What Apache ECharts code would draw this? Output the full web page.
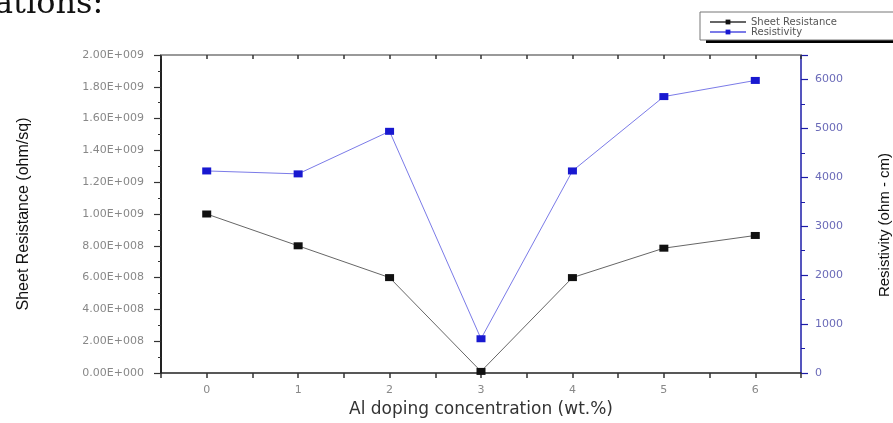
<!DOCTYPE html>
<html>
<head>
<meta charset="utf-8">
<script src="https://cdn.jsdelivr.net/npm/echarts@6/dist/echarts.min.js"></script>
<style>
  html, body { margin: 0; padding: 0; background: #fff; }
  #chart { width: 893px; height: 423px; }
</style>
</head>
<body>
<div id="chart"></div>
<script>
// Al doping concentration (wt.%)
const doping = [0, 1, 2, 3, 4, 5, 6];
// sheet resistance, ohm/sq
const sheetResistance = [1.0e9, 8.0e8, 6.0e8, 1.0e7, 6.0e8, 7.85e8, 8.65e8];
// resistivity, ohm - cm
const resistivity = [4130, 4070, 4940, 700, 4130, 5650, 5980];

function sci(v) {
  const parts = v.toExponential(2).split('e');
  const exp = parseInt(parts[1], 10);
  return parts[0] + 'E' + (exp < 0 ? '-' : '+') + String(Math.abs(exp)).padStart(3, '0');
}

const myChart = echarts.init(document.getElementById('chart'));

const labelFont = '"DejaVu Sans", sans-serif';
const nameFont = '"Liberation Sans Narrow", "Liberation Sans", sans-serif';

let option = {
  animation: false,
  backgroundColor: '#fff',
  grid: { left: 161, right: 92, top: 55, bottom: 50, outerBoundsMode: 'none', containLabel: false },
  legend: {
    orient: 'vertical',
    left: 704,
    top: 12,
    z: 10,
    itemWidth: 36,
    itemHeight: 6,
    itemGap: 0,
    textStyle: { fontSize: 10, color: '#555', fontFamily: labelFont },
    data: ['Sheet Resistance', 'Resistivity']
  },
  graphic: [
    {
      type: 'text', left: -6, top: -11, z: 1,
      style: { text: 'ations:', font: '32px "DejaVu Serif", serif', fill: '#111' }
    },
    {
      type: 'rect', z: 1,
      shape: { x: 706, y: 15, width: 200, height: 28 },
      style: { fill: '#000' }
    },
    {
      type: 'rect', z: 2,
      shape: { x: 700, y: 12, width: 200, height: 28 },
      style: { fill: '#fff', stroke: '#777', lineWidth: 1 }
    }
  ],
  xAxis: [
    {
      type: 'value',
      min: -0.5, max: 6.5, interval: 0.5,
      name: 'Al doping concentration (wt.%)',
      nameLocation: 'middle',
      nameGap: 28,
      nameTextStyle: { fontSize: 17, color: '#333', fontFamily: labelFont },
      axisLine: { onZero: false, lineStyle: { color: '#222', width: 1.5 } },
      axisTick: { show: true, length: 5, lineStyle: { color: '#333', width: 1.5 } },
      axisLabel: {
        fontSize: 11, color: '#888', fontFamily: labelFont, margin: 12,
        formatter: v => (Number.isInteger(v) ? String(v) : '')
      },
      splitLine: { show: false }
    },
    {
      type: 'value',
      position: 'top',
      min: -0.5, max: 6.5, interval: 0.5,
      axisLine: { onZero: false, lineStyle: { color: '#999', width: 2 } },
      axisTick: { show: true, inside: true, length: 4, lineStyle: { color: '#333', width: 1.5 } },
      axisLabel: { show: false },
      splitLine: { show: false }
    }
  ],
  yAxis: [
    {
      type: 'value',
      min: 0, max: 2e9, interval: 2e8,
      name: 'Sheet Resistance (ohm/sq)',
      nameLocation: 'middle',
      nameRotate: 90,
      nameGap: 129,
      nameTextStyle: { fontSize: 16, color: '#111', fontFamily: nameFont },
      axisLine: { show: true, onZero: false, lineStyle: { color: '#222', width: 2 } },
      axisTick: { show: true, length: 7, lineStyle: { color: '#333', width: 1.2 } },
      minorTick: { show: true, splitNumber: 2, length: 3, lineStyle: { color: '#333' } },
      axisLabel: { fontSize: 11, color: '#888', fontFamily: labelFont, margin: 17, formatter: sci },
      splitLine: { show: false }
    },
    {
      type: 'value',
      position: 'right',
      min: 0, max: 6500, interval: 1000,
      name: 'Resistivity (ohm - cm)',
      nameLocation: 'middle',
      nameRotate: 90,
      nameGap: 76,
      nameTextStyle: { fontSize: 15, color: '#111', fontFamily: nameFont, padding: [0, 22, 0, 0] },
      axisLine: { show: true, onZero: false, lineStyle: { color: '#1c1ca8', width: 1.5 } },
      axisTick: { show: true, length: 7, lineStyle: { color: '#1c1ca8', width: 1.2 } },
      minorTick: { show: true, splitNumber: 2, length: 4, lineStyle: { color: '#1c1ca8' } },
      axisLabel: {
        fontSize: 11, color: '#6a6ab8', fontFamily: labelFont, margin: 14,
        formatter: v => (v > 6000 ? '' : String(v))
      },
      splitLine: { show: false }
    }
  ],
  series: [
    {
      name: 'Sheet Resistance',
      type: 'line',
      yAxisIndex: 0,
      data: doping.map((x, i) => [x, sheetResistance[i]]),
      symbol: 'rect',
      symbolSize: [9, 7],
      lineStyle: { color: '#666', width: 1 },
      itemStyle: { color: '#111' }
    },
    {
      name: 'Resistivity',
      type: 'line',
      yAxisIndex: 1,
      data: doping.map((x, i) => [x, resistivity[i]]),
      symbol: 'rect',
      symbolSize: [9, 7],
      lineStyle: { color: '#7b7be8', width: 1 },
      itemStyle: { color: '#1818d0' }
    }
  ]
};

myChart.setOption(option);
</script>
</body>
</html>
